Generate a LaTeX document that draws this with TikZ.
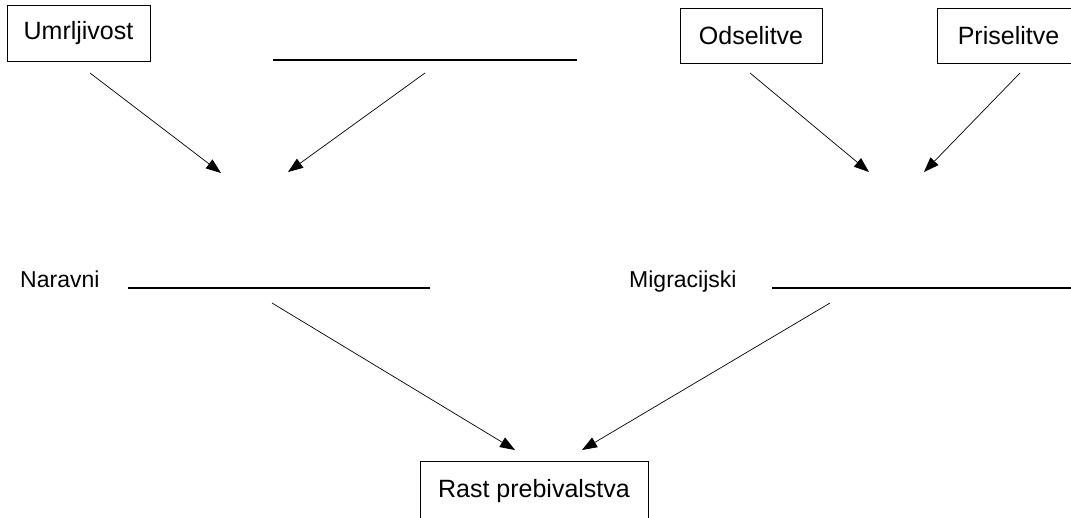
\documentclass[tikz,border=0pt]{standalone}
\usepackage{fontspec}
\setmainfont{Liberation Sans}
\usetikzlibrary{arrows.meta}
\begin{document}
\begin{tikzpicture}[x=1pt,y=-1pt,
  lbl/.style={font=\fontsize{23}{27}\selectfont, inner sep=0pt},
  boxnode/.style={draw, line width=0.8pt, inner sep=0pt, font=\fontsize{25}{29}\selectfont},
  blank/.style={line width=2pt},
  arr/.style={line width=0.7pt, -{Triangle[length=15pt,width=11pt]}}]
\useasboundingbox (0,0) rectangle (1071,517);
\clip (0,0) rectangle (1071,517);
% boxes
\node[boxnode, minimum width=143pt, minimum height=56pt] (umr) at (78.5,33) {Umrljivost};
\node[boxnode, minimum width=142pt, minimum height=55pt] (ods) at (751,35.5) {Odselitve};
\node[boxnode, minimum width=143pt, minimum height=55pt] (pri) at (1008.5,35.5) {Priselitve};
\node[boxnode, minimum width=228pt, minimum height=60pt] (rast) at (534,491) {Rast prebivalstva};
% blank lines
\coordinate (t1) at (273,60); \coordinate (t2) at (577,60);
\draw[blank] (t1) -- (t2);
\node[lbl, anchor=base west] (nar) at (20,287) {Naravni};
\coordinate (n1) at (128,288); \coordinate (n2) at (430,288);
\draw[blank] (n1) -- (n2);
\node[lbl, anchor=base west] (mig) at (629,287) {Migracijski};
\coordinate (m1) at (772,288); \coordinate (m2) at (1075,288);
\draw[blank] (m1) -- (m2);
% arrow coordinates
\coordinate (a1s) at (90,73);   \coordinate (a1e) at (221,173);
\coordinate (a2s) at (425,73);  \coordinate (a2e) at (288,172);
\coordinate (a3s) at (750,73);  \coordinate (a3e) at (869,172);
\coordinate (a4s) at (1020,73); \coordinate (a4e) at (924,172);
\coordinate (a5s) at (272,303); \coordinate (a5e) at (515,450);
\coordinate (a6s) at (830,303); \coordinate (a6e) at (582,450);
\draw[arr] (a1s) -- (a1e);
\draw[arr] (a2s) -- (a2e);
\draw[arr] (a3s) -- (a3e);
\draw[arr] (a4s) -- (a4e);
\draw[arr] (a5s) -- (a5e);
\draw[arr] (a6s) -- (a6e);
\end{tikzpicture}
\end{document}
